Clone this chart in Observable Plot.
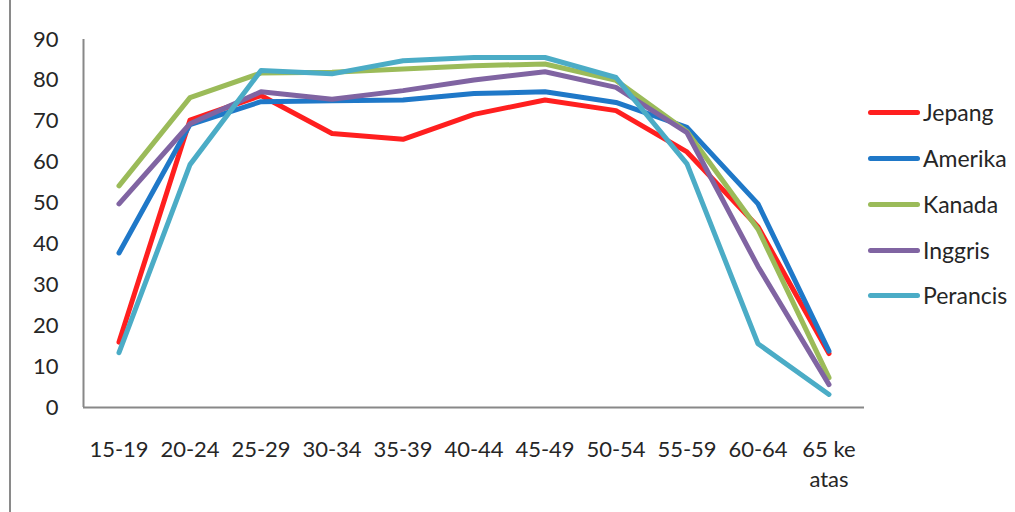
<!DOCTYPE html>
<html><head><meta charset="utf-8">
<script src="https://cdn.jsdelivr.net/npm/d3@7"></script>
<script src="https://cdn.jsdelivr.net/npm/@observablehq/plot@0.6"></script>
<style>
body{margin:0;background:#fff;font-family:Lato,"Open Sans",sans-serif;}
#wrap{position:relative;width:1015px;height:512px;overflow:hidden;background:#fff}
#border{position:absolute;left:9px;top:0;width:2px;height:512px;background:#8a8a8a}
#chart{position:absolute;left:0;top:0}
#legend{position:absolute;left:868px;top:0}
.row{position:absolute;left:0;display:flex;align-items:center;height:30px;white-space:nowrap}
.sw{width:52px;height:5px;border-radius:3px;margin-right:3px}
.lab{font-size:23px;color:#262626}
</style></head><body>
<div id="wrap"><div id="border"></div><div id="chart"></div><div id="legend"></div></div>
<script>
const categories = ["15-19","20-24","25-29","30-34","35-39","40-44","45-49","50-54","55-59","60-64","65 ke atas"];
const seriesNames = ["Jepang","Amerika","Kanada","Inggris","Perancis"];
const seriesColors = ["#ff1f1f","#1f78c8","#9bbb59","#8064a2","#4bacc6"];
const yTicks = [0,10,20,30,40,50,60,70,80,90];
const jepang   = [16.0, 70.3, 76.3, 67.0, 65.6, 71.7, 75.2, 72.6, 62.5, 44.2, 13.2];
const amerika  = [37.8, 69.2, 74.8, 75.0, 75.2, 76.8, 77.2, 74.6, 68.5, 49.8, 13.8];
const kanada   = [54.2, 75.8, 81.8, 82.0, 82.8, 83.6, 84.0, 80.0, 67.5, 43.6, 7.3];
const inggris  = [49.8, 69.4, 77.2, 75.4, 77.5, 80.1, 82.1, 78.3, 67.2, 34.5, 5.6];
const perancis = [13.4, 59.4, 82.4, 81.6, 84.8, 85.6, 85.6, 80.7, 59.6, 15.6, 3.2];

const seriesValues = [jepang, amerika, kanada, inggris, perancis];
const data = [];
seriesNames.forEach((s, k) => seriesValues[k].forEach((v, i) => data.push({s, i, v})));

const chart = Plot.plot({
  width: 1015, height: 512,
  marginLeft: 83, marginRight: 151, marginTop: 39, marginBottom: 105,
  x: {type: "linear", domain: [-0.5, categories.length - 0.5]},
  y: {domain: [0, 90]},
  color: {domain: seriesNames, range: seriesColors},
  style: {fontFamily: "Lato, 'Open Sans', sans-serif", fontSize: "22px", color: "#262626", background: "transparent", overflow: "visible"},
  marks: [
    Plot.axisY({ticks: yTicks, tickSize: 0, tickPadding: 25, label: null, fontSize: 22}),
    Plot.axisX({ticks: d3.range(categories.length), tickSize: 0, tickPadding: 28, label: null, fontSize: 22, lineHeight: 1.38,
      tickFormat: i => categories[i].replace(" atas", "\natas")}),
    Plot.ruleX([-0.5], {stroke: "#888", strokeWidth: 2}),
    Plot.ruleY([0], {stroke: "#888", strokeWidth: 2}),
    Plot.line(data, {x: "i", y: "v", z: "s", stroke: "s", strokeWidth: 5, strokeLinecap: "round", strokeLinejoin: "round"})
  ]
});
document.getElementById("chart").appendChild(chart);

const legend = document.getElementById("legend");
const rowCenters = [112, 158, 204, 250, 295];
seriesNames.forEach((s, k) => {
  const row = document.createElement("div");
  row.className = "row";
  row.style.top = (rowCenters[k] - 15) + "px";
  row.innerHTML = `<div class="sw" style="background:${seriesColors[k]}"></div><span class="lab">${s}</span>`;
  legend.appendChild(row);
});
</script>
</body></html>
